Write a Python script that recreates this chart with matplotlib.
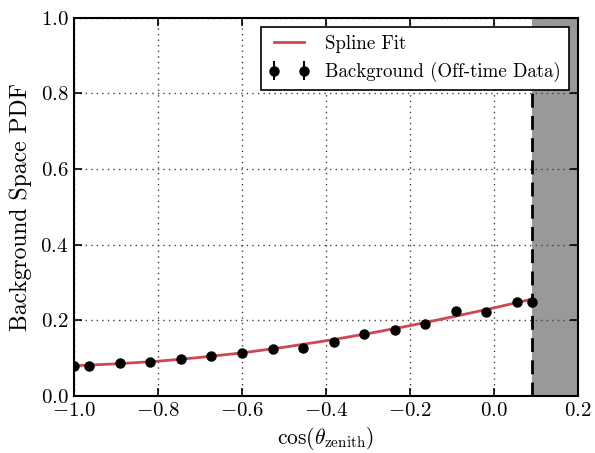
import matplotlib
matplotlib.use("Agg")
import matplotlib.pyplot as plt
from matplotlib.ticker import FuncFormatter

plt.rcParams['mathtext.fontset'] = 'cm'
plt.rcParams['font.family'] = ['cmr10', 'DejaVu Serif']
plt.rcParams['axes.unicode_minus'] = False

# background data (off-time)
bg_x = [-1.0, -0.964, -0.891, -0.818, -0.745, -0.673, -0.600, -0.527, -0.455,
        -0.382, -0.309, -0.236, -0.164, -0.091, -0.018, 0.054, 0.09]
bg_y = [0.080, 0.080, 0.087, 0.090, 0.098, 0.107, 0.115, 0.123, 0.126,
        0.144, 0.164, 0.174, 0.191, 0.226, 0.223, 0.249, 0.249]
bg_err = [0.003] * len(bg_x)

# spline fit curve
fit_x = [-1.0, -0.9, -0.8, -0.7, -0.6, -0.5, -0.4, -0.3, -0.2, -0.1, 0.0, 0.09]
fit_y = [0.080, 0.085, 0.092, 0.102, 0.114, 0.129, 0.146, 0.165, 0.186, 0.209, 0.233, 0.256]

cut = 0.09
xticks = [-1.0, -0.8, -0.6, -0.4, -0.2, 0.0, 0.2]
yticks = [0.0, 0.2, 0.4, 0.6, 0.8, 1.0]

fig = plt.figure(figsize=(5.95, 4.53), dpi=100)
ax = fig.add_axes([0.1244, 0.1258, 0.847, 0.835])

ax.axvspan(cut, 0.2, color='#999999', lw=0, zorder=0)
ax.axvline(cut, color='k', ls='--', lw=2, dashes=(5, 3), zorder=4)

ax.plot(fit_x, fit_y, color='#d0484f', lw=2, label='Spline Fit', zorder=3)
ax.errorbar(bg_x, bg_y, yerr=bg_err, fmt='o', color='k', ms=6.5, capsize=0,
            elinewidth=1.5, label='Background (Off-time Data)', zorder=5)

ax.set_xlim(-1.0, 0.2)
ax.set_ylim(0.0, 1.0)
ax.set_xticks(xticks)
ax.set_yticks(yticks)
fmt = FuncFormatter(lambda v, p: r'$%.1f$' % v)
ax.xaxis.set_major_formatter(fmt)
ax.yaxis.set_major_formatter(fmt)
ax.tick_params(direction='in', top=True, right=True, length=6, width=1.2,
               labelsize=15, pad=4)
ax.grid(True, color='0.25', ls=(0, (1, 3)), lw=1)
ax.set_axisbelow(True)
for s in ax.spines.values():
    s.set_linewidth(1.5)

ax.set_xlabel(r'$\cos(\theta_{\mathrm{zenith}})$', fontsize=15.5)
ax.set_ylabel('Background Space PDF', fontsize=17, labelpad=6)

leg = ax.legend(loc='upper right', numpoints=2, fancybox=False,
                framealpha=1, edgecolor='k', borderaxespad=0.5,
                prop={'size': 13.6}, handlelength=2.2, labelspacing=0.5)
leg.get_frame().set_linewidth(1.2)

fig.savefig('out.png', dpi=100)
